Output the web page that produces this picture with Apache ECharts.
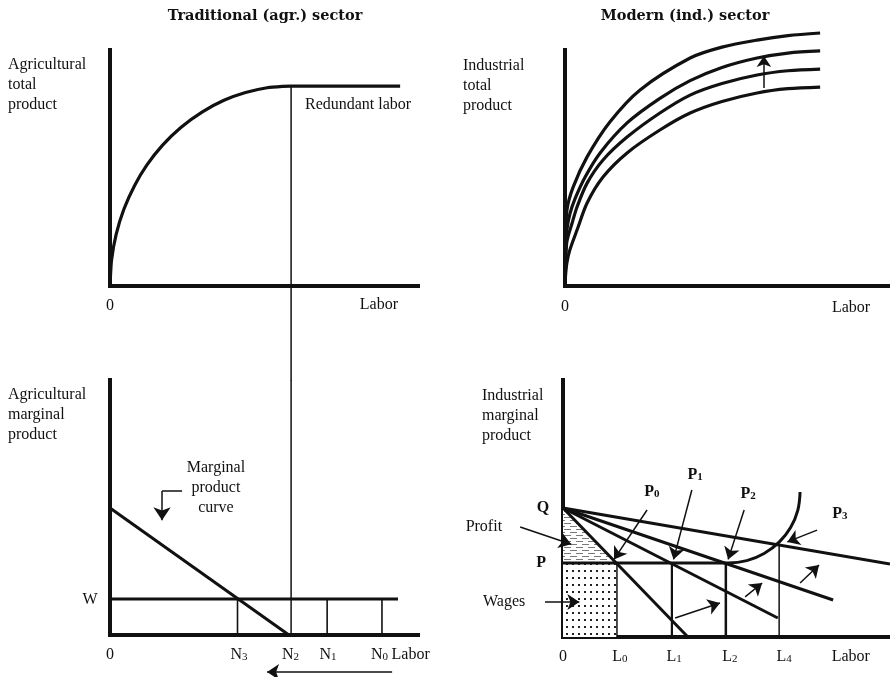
<!DOCTYPE html>
<html><head><meta charset="utf-8">
<script src="https://cdn.jsdelivr.net/npm/echarts@6/dist/echarts.min.js"></script>
<style>html,body{margin:0;padding:0;background:#fff}#c{width:890px;height:677px}</style>
</head><body><div id="c"></div>
<script>
// ================= DATA =================
const sectorTitles = ['Traditional (agr.) sector', 'Modern (ind.) sector'];
const yAxisNames = ['Agricultural\ntotal\nproduct', 'Industrial\ntotal\nproduct',
                    'Agricultural\nmarginal\nproduct', 'Industrial\nmarginal\nproduct'];

// Panel A: agricultural total product (labor units 0-100, output 0-100)
const agrTPLabor = [0, 0.5, 2, 4.5, 8, 12, 17, 23, 30, 37, 44, 51, 56, 58.8, 94.2];
const agrTPValue = [0, 11.0, 21.9, 32.5, 42.6, 51.3, 59.6, 67.2, 73.8, 78.7, 82.0, 84.0, 84.6, 84.7, 84.7];
const redundantX = [58.8, 58.8];
const redundantYTop = [84.7, -40];     // drawn on into the lower panel
const redundantYBottom = [100, 0];
const redundantLabel = ['Redundant labor'];
const redundantLabelX = [63.3];
const redundantLabelY = [76.7];
const aTickLabels = ['0', 'Labor'];
const aTickX = [0, 87.3];
const aTickY = [-8.5, -8.1];

// Panel B: industrial total product curves (shifting upward)
const indTP1X = [0, 0.2, 0.6, 1.5, 3.7, 6.8, 11.7, 19.1, 29.2, 38.5, 48.3, 59.1, 68.6, 78.5];
const indTP1Y = [0, 5, 10, 15.3, 23.7, 35.2, 46.2, 56.4, 66.1, 73.3, 78.2, 81.8, 83.6, 84.3];
const indTP2X = [0, 0.2, 0.6, 2.2, 3.7, 6.8, 11.7, 19.1, 29.2, 38.5, 48.3, 59.1, 68.6, 78.5];
const indTP2Y = [0, 10, 19, 26.7, 33.5, 43.6, 53.4, 63.1, 73.3, 80.9, 85.8, 89.4, 91.2, 91.9];
const indTP3X = [0, 0.2, 0.6, 1.5, 3.1, 6.2, 10.8, 19.1, 29.2, 38.5, 48.3, 59.1, 68.6, 78.5];
const indTP3Y = [0, 14, 24, 30.5, 37, 46.2, 56.4, 69.1, 79.5, 87.0, 92.6, 96.6, 98.7, 99.6];
const indTP4X = [0, 0.2, 0.6, 2.5, 6.8, 13.8, 23.1, 38.5, 48.3, 59.1, 68.6, 78.5];
const indTP4Y = [0, 18, 32.2, 41.9, 54.7, 69.5, 83.1, 96.6, 101.2, 104.2, 106.1, 107.2];
const shiftUpX = [61.2, 61.2];
const shiftUpY = [83.9, 97.5];
const bTickLabels = ['0', 'Labor'];
const bTickX = [0, 88.0];
const bTickY = [-8.9, -9.3];

// Panel C: agricultural marginal product
const mpLabor = [0, 58.1];
const mpValue = [49.8, 0];
const wageLineX = [0, 93.5];
const wageLineY = [14.1, 14.1];
const nMarksX = [41.4, 70.5, 88.3];        // N3, N1, N0
const nMarksTop = 14.1;
const cTickLabels = ['0', 'N₃', 'N₂', 'N₁', 'N₀', 'Labor'];
const cTickX = [0, 41.9, 58.6, 70.8, 87.5, 97.6];
const cTickY = -7.8;
const cSideLabels = ['W', 'Marginal\nproduct\ncurve'];
const cSideX = [-6.5, 34.4];
const cSideY = [13.7, 57.6];
const laborShiftX = [91.6, 51.0];
const laborShiftY = [-14.5, -14.5];
const mpNoteX = [23.4, 16.9, 16.9];
const mpNoteY = [56.5, 56.5, 45.0];

// Panel D: industrial marginal product
const qValue = 50.2;
const pWage = 28.8;
const mpdEndX = [38.2, 65.7, 82.6, 100];
const mpdEndY = [0, 7.4, 14.4, 28.4];
const wageLineDX = [0, 49.8];
const lMarksX = [16.5, 33.3, 49.8, 66.1];
const lMarksTop = [28.8, 28.8, 28.8, 35.8];
const lMarksWidth = [1.5, 2.2, 2.5, 1.5];
const supplyX = [49.8, 50.5, 56.2, 61.5, 66.1, 69.6, 71.8, 72.5];
const supplyY = [28.8, 28.8, 29.7, 32.5, 36.9, 42.6, 49.3, 56.4];
const profitX = [0, 0, 16.5];
const profitY = [50.2, 28.8, 28.8];
const wagesX = [0, 16.5, 16.5, 0];
const wagesY = [0, 0, 28.8, 28.8];
const dArrowFromX = [34.3, 55.7, 72.5, 25.7, 39.4, 55.4, 77.7, -13.1, -5.5];
const dArrowFromY = [7.4, 15.6, 21.0, 49.4, 57.2, 49.4, 41.6, 42.8, 13.6];
const dArrowToX = [48.0, 60.9, 78.3, 15.6, 33.8, 50.5, 68.6, 2.5, 5.0];
const dArrowToY = [13.2, 21.0, 28.0, 30.2, 30.2, 30.2, 37.0, 36.1, 13.6];
const pointLabels = ['P₀', 'P₁', 'P₂', 'P₃'];
const pointLabelX = [27.2, 40.4, 56.6, 84.7];
const pointLabelY = [56.4, 63.0, 55.7, 47.9];
const dBoldLabels = ['Q', 'P'];
const dBoldX = [-6.1, -6.7];
const dBoldY = [50.2, 28.8];
const dSideLabels = ['Profit', 'Wages'];
const dSideX = [-24.2, -18.0];
const dSideY = [42.8, 13.6];
const dTickLabels = ['0', 'L₀', 'L₁', 'L₂', 'L₄', 'Labor'];
const dTickX = [0, 17.4, 34.0, 51.0, 67.6, 88.0];
const dTickY = -7.8;

// ================= STYLE / HELPERS =================
const INK = '#111111';
const SERIF = '"Liberation Serif", "Times New Roman", serif';

function makePattern(w, h, draw) {
  const cv = document.createElement('canvas');
  cv.width = w; cv.height = h;
  const ctx = cv.getContext('2d');
  draw(ctx);
  return { image: cv, repeat: 'repeat' };
}
const hatch = makePattern(12, 6, ctx => {
  ctx.fillStyle = '#fff'; ctx.fillRect(0, 0, 12, 6);
  ctx.fillStyle = '#7a7a7a';
  ctx.fillRect(0, 1, 7, 1);
  ctx.fillRect(6, 4, 6, 1); ctx.fillRect(0, 4, 1, 1);
});
const dots = makePattern(6, 7, ctx => {
  ctx.fillStyle = '#fff'; ctx.fillRect(0, 0, 6, 7);
  ctx.fillStyle = '#222';
  ctx.fillRect(2, 3, 2, 2);
});

// subscript digits -> rich text tokens
function toRich(s) {
  if (!/[\u2080-\u2089]/.test(s)) return s;
  let out = '';
  for (const ch of s) {
    const c = ch.charCodeAt(0);
    if (c >= 0x2080 && c <= 0x2089) out += '{s|' + (c - 0x2080) + '}';
    else out += '{m|' + ch + '}';
  }
  return out;
}

function axis(gi) {
  return { type: 'value', gridIndex: gi, min: 0, max: 100,
    axisLine: { show: true, onZero: false, lineStyle: { color: INK, width: 4, cap: 'square' } },
    axisTick: { show: false }, axisLabel: { show: false }, splitLine: { show: false } };
}
function curve(gi, xs, ys, w, smooth) {
  return { type: 'line', xAxisIndex: gi, yAxisIndex: gi, data: xs.map((x, i) => [x, ys[i]]),
    showSymbol: false, symbol: 'none', clip: false, silent: true, smooth: smooth || false,
    lineStyle: { color: INK, width: w }, z: 3 };
}
function arrows(gi, fx, fy, tx, ty, w, size) {
  return { type: 'lines', coordinateSystem: 'cartesian2d', xAxisIndex: gi, yAxisIndex: gi,
    symbol: ['none', 'arrow'], symbolSize: size, clip: false, silent: true, z: 4,
    lineStyle: { color: INK, width: w, opacity: 1, curveness: 0 },
    data: fx.map((x, i) => ({ coords: [[x, fy[i]], [tx[i], ty[i]]] })) };
}
function labels(gi, texts, xs, ys, opts) {
  opts = opts || {};
  const size = opts.size || 16, weight = opts.weight || 'normal';
  return { type: 'scatter', xAxisIndex: gi, yAxisIndex: gi, symbolSize: 0, clip: false, silent: true, z: 5,
    itemStyle: { opacity: 1 },
    data: texts.map((t, i) => ({ value: [xs[i], Array.isArray(ys) ? ys[i] : ys], name: t })),
    label: { show: true, position: opts.position || 'inside', distance: 0, formatter: p => toRich(p.name),
      color: INK, opacity: 1, fontFamily: SERIF, fontSize: size, fontWeight: weight,
      lineHeight: opts.lineHeight || 20, align: opts.align || 'center',
      rich: {
        m: { fontFamily: SERIF, fontSize: size, fontWeight: weight, color: INK, lineHeight: 16 },
        s: { fontFamily: SERIF, fontSize: 11, fontWeight: weight, color: INK, lineHeight: 7, verticalAlign: 'bottom' }
      } } };
}
function polygon(gi, xs, ys, fill) {
  return { type: 'custom', xAxisIndex: gi, yAxisIndex: gi, clip: false, silent: true, z: 1,
    data: [[xs[0], ys[0]]],
    renderItem: (params, api) => ({ type: 'polygon',
      shape: { points: xs.map((x, i) => api.coord([x, ys[i]])) },
      style: { fill: fill, stroke: null } }) };
}

// ================= SERIES =================
const series = [];
// Panel A
series.push(curve(0, agrTPLabor, agrTPValue, 3.2, 0.2));
series.push(curve(0, redundantX, redundantYTop, 1.5));
series.push(labels(0, redundantLabel, redundantLabelX, redundantLabelY, { position: 'right', align: 'left' }));
series.push(labels(0, aTickLabels, aTickX, aTickY));
// Panel B
[[indTP1X, indTP1Y], [indTP2X, indTP2Y], [indTP3X, indTP3Y], [indTP4X, indTP4Y]].forEach(c =>
  series.push(curve(1, c[0], c[1], 3.2, 0.3)));
series.push(arrows(1, [shiftUpX[0]], [shiftUpY[0]], [shiftUpX[1]], [shiftUpY[1]], 1.5, [9, 11]));
series.push(labels(1, bTickLabels, bTickX, bTickY));
// Panel C
series.push(curve(2, redundantX, redundantYBottom, 1.5));
series.push(curve(2, mpLabor, mpValue, 3));
series.push(curve(2, wageLineX, wageLineY, 3));
nMarksX.forEach(x => series.push(curve(2, [x, x], [nMarksTop, 0], 1.6)));
series.push(labels(2, cTickLabels, cTickX, cTickY));
series.push(labels(2, cSideLabels, cSideX, cSideY));
series.push(arrows(2, [laborShiftX[0]], [laborShiftY[0]], [laborShiftX[1]], [laborShiftY[1]], 1.5, [9, 12]));
series.push(curve(2, mpNoteX.slice(0, 2), mpNoteY.slice(0, 2), 1.5));
series.push(arrows(2, [mpNoteX[1]], [mpNoteY[1]], [mpNoteX[2]], [mpNoteY[2]], 1.5, [10, 13]));
// Panel D
series.push(polygon(3, profitX, profitY, hatch));
series.push(polygon(3, wagesX, wagesY, dots));
mpdEndX.forEach((x, i) => series.push(curve(3, [0, x], [qValue, mpdEndY[i]], 3)));
series.push(curve(3, wageLineDX, [pWage, pWage], 3));
lMarksX.forEach((x, i) => series.push(curve(3, [x, x], [lMarksTop[i], 0], lMarksWidth[i])));
series.push(curve(3, supplyX, supplyY, 3, 0.4));
series.push(arrows(3, dArrowFromX, dArrowFromY, dArrowToX, dArrowToY, 1.5, [10, 12]));
series.push(labels(3, pointLabels, pointLabelX, pointLabelY, { weight: 'bold' }));
series.push(labels(3, dBoldLabels, dBoldX, dBoldY, { weight: 'bold' }));
series.push(labels(3, dSideLabels, dSideX, dSideY));
series.push(labels(3, dTickLabels, dTickX, dTickY));

// ================= OPTION =================
const titleFont = 'bold 14.5px "DejaVu Serif", serif';
const nameFont = '16px ' + SERIF;
const namePos = [[8, 55], [463, 56], [8, 385], [482, 386]];
const titlePos = [[265, 16], [685, 16]];

const option = {
  animation: false,
  backgroundColor: '#ffffff',
  grid: [
    { left: 110, top: 50, width: 308, height: 236 },
    { left: 565, top: 50, width: 325, height: 236 },
    { left: 110, top: 380, width: 308, height: 255 },
    { left: 563, top: 380, width: 327, height: 257 }
  ],
  xAxis: [axis(0), axis(1), axis(2), axis(3)],
  yAxis: [axis(0), axis(1), axis(2), axis(3)],
  graphic: [
    ...sectorTitles.map((t, i) => ({ type: 'text', x: titlePos[i][0], y: titlePos[i][1], silent: true,
      style: { text: t, font: titleFont, fill: INK, align: 'center', verticalAlign: 'middle',
               textAlign: 'center', textVerticalAlign: 'middle' } })),
    ...yAxisNames.map((t, i) => ({ type: 'text', x: namePos[i][0], y: namePos[i][1], silent: true,
      style: { text: t, font: nameFont, fill: INK, lineHeight: 20, align: 'left', verticalAlign: 'top',
               textAlign: 'left', textVerticalAlign: 'top' } }))
  ],
  series: series
};

const chart = echarts.init(document.getElementById('c'), null, { renderer: 'canvas' });
chart.setOption(option);
</script>
</body></html>
